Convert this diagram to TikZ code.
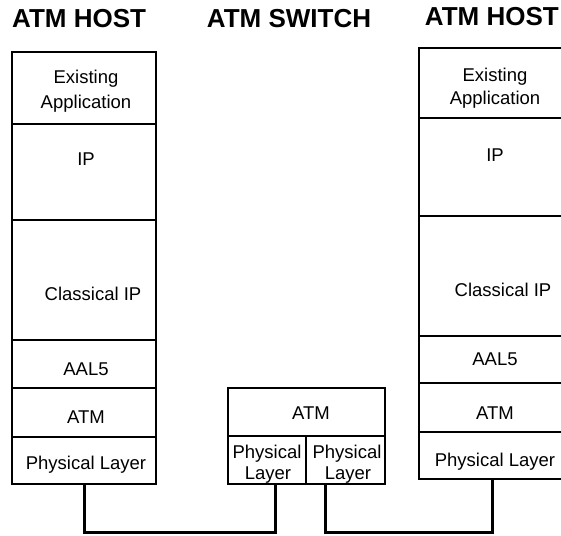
\documentclass[tikz,border=0pt]{standalone}
\usepackage{fontspec}
\setmainfont{Liberation Sans}
\begin{document}
\begin{tikzpicture}[x=1pt,y=-1pt,
  cell/.style={draw=black,line width=1.2pt,rectangle,inner sep=0pt,outer sep=0pt},
  lbl/.style={font=\fontsize{18.5}{21}\selectfont,inner sep=0pt,anchor=base},
  ttl/.style={font=\fontsize{26}{30}\selectfont\bfseries,inner sep=0pt},
  wire/.style={draw=black,line width=3pt}]
\clip (0,0) rectangle (561,535);
\fill[white] (0,0) rectangle (561,535);
% titles
\node[ttl,anchor=base west] (t1) at (12,28) {ATM HOST};
\node[ttl,anchor=base] (t2) at (289,28) {ATM SWITCH};
\node[ttl,anchor=base east] (t3) at (559,26) {ATM HOST};
% left host
\node[cell,minimum width=144pt,minimum height=72pt] (lapp) at (84,88) {};
\node[cell,minimum width=144pt,minimum height=96pt] (lip) at (84,172) {};
\node[cell,minimum width=144pt,minimum height=120pt] (lcip) at (84,280) {};
\node[cell,minimum width=144pt,minimum height=48pt] (laal) at (84,364) {};
\node[cell,minimum width=144pt,minimum height=49pt] (latm) at (84,412.5) {};
\node[cell,minimum width=144pt,minimum height=47pt] (lphy) at (84,460.5) {};
\node[lbl] (lapp1) at (86,83.5) {Existing};
\node[lbl] (lapp2) at (86,108) {Application};
\node[lbl] (lipt) at (86,165.5) {IP};
\node[lbl] (lcipt) at (93,300.5) {Classical IP};
\node[lbl] (laalt) at (86,375.5) {AAL5};
\node[lbl] (latmt) at (86,423.5) {ATM};
\node[lbl] (lphyt) at (86,469.5) {Physical Layer};
% switch
\node[cell,minimum width=157pt,minimum height=48pt] (satm) at (306.5,412) {};
\node[cell,minimum width=78pt,minimum height=48pt] (swl) at (267,460) {};
\node[cell,minimum width=79pt,minimum height=48pt] (swr) at (345.5,460) {};
\node[lbl] (satmt) at (311,419.5) {ATM};
\node[lbl] (swl1) at (267,458.5) {Physical};
\node[lbl] (swl2) at (268,479.5) {Layer};
\node[lbl] (swr1) at (347,458.5) {Physical};
\node[lbl] (swr2) at (348,479.5) {Layer};
% right host
\node[cell,minimum width=156pt,minimum height=70pt] (rapp) at (497,83) {};
\node[cell,minimum width=156pt,minimum height=98pt] (rip) at (497,167) {};
\node[cell,minimum width=156pt,minimum height=120pt] (rcip) at (497,276) {};
\node[cell,minimum width=156pt,minimum height=47pt] (raal) at (497,359.5) {};
\node[cell,minimum width=156pt,minimum height=49pt] (ratm) at (497,407.5) {};
\node[cell,minimum width=156pt,minimum height=47pt] (rphy) at (497,455.5) {};
\node[lbl] (rapp1) at (495,81.5) {Existing};
\node[lbl] (rapp2) at (495,104.5) {Application};
\node[lbl] (ript) at (495,161.5) {IP};
\node[lbl] (rcipt) at (503,296.5) {Classical IP};
\node[lbl] (raalt) at (495,365.5) {AAL5};
\node[lbl] (ratmt) at (495,419.5) {ATM};
\node[lbl] (rphyt) at (495,466.5) {Physical Layer};
% connectors
\draw[wire] (lphy.south) -- ++(0,48) -| ([xshift=8pt]swl.south);
\draw[wire] ([xshift=-20.5pt]swr.south) -- ++(0,48) -| ([xshift=-5pt]rphy.south);
\end{tikzpicture}
\end{document}
